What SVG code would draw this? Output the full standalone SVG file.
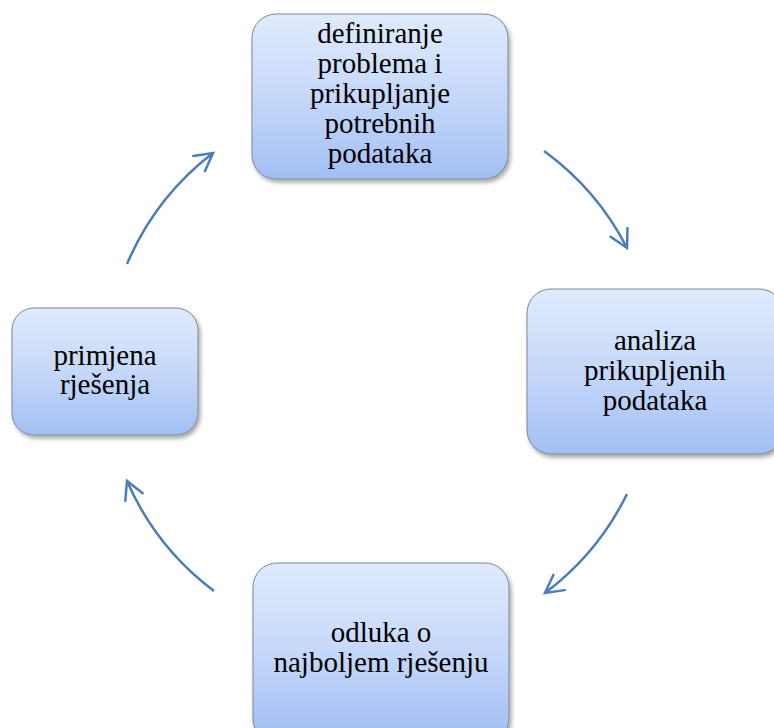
<svg xmlns="http://www.w3.org/2000/svg" width="774" height="728" viewBox="0 0 774 728">
  <defs>
    <linearGradient id="boxFill" x1="0" y1="0" x2="0" y2="1">
      <stop offset="0" stop-color="#e0eafc"/>
      <stop offset="0.5" stop-color="#c6d8f9"/>
      <stop offset="1" stop-color="#a2bff4"/>
    </linearGradient>
    <linearGradient id="boxFillTall" x1="0" y1="0" x2="0" y2="1">
      <stop offset="0" stop-color="#e0eafc"/>
      <stop offset="0.5" stop-color="#c6d8f9"/>
      <stop offset="0.94" stop-color="#a2bff4"/>
      <stop offset="1" stop-color="#a0bdf3"/>
    </linearGradient>
    <filter id="shadow" x="-10%" y="-10%" width="125%" height="130%">
      <feDropShadow dx="2" dy="3" stdDeviation="2.2" flood-color="#000" flood-opacity="0.35"/>
    </filter>
    <marker id="head" markerUnits="userSpaceOnUse" viewBox="-22 -14 26 28" markerWidth="26" markerHeight="28" refX="0" refY="0" orient="auto" overflow="visible">
      <path d="M -17.5 -9.5 L 0 0 L -17.5 9.5" fill="none" stroke="#4a7ebb" stroke-width="2.5" stroke-linecap="round" stroke-linejoin="miter"/>
    </marker>
    <style>
      .box { fill: url(#boxFill); stroke: #7d8796; stroke-width: 1; filter: url(#shadow); }
      .lbl { font-family: "Liberation Serif", "Times New Roman", serif; font-size: 29px; fill: #000; text-anchor: middle; }
      .conn { fill: none; stroke: #4a7ebb; stroke-width: 2.5; marker-end: url(#head); }
    </style>
  </defs>

  <g id="connectors">
    <path class="conn" d="M 544 151 A 274 274 0 0 1 627 248"/>
    <path class="conn" d="M 627 494 A 274 274 0 0 1 545 593"/>
    <path class="conn" d="M 214 591 A 275 275 0 0 1 127 481"/>
    <path class="conn" d="M 127 264 A 275 275 0 0 1 213 153"/>
  </g>

  <g id="node-definiranje">
    <rect class="box" x="252" y="14" width="256" height="165" rx="24" ry="24"/>
    <text class="lbl" x="380" y="43">definiranje</text>
    <text class="lbl" x="380" y="73">problema i</text>
    <text class="lbl" x="380" y="103">prikupljanje</text>
    <text class="lbl" x="380" y="133">potrebnih</text>
    <text class="lbl" x="380" y="163">podataka</text>
  </g>

  <g id="node-analiza">
    <rect class="box" x="527" y="289" width="256" height="165" rx="24" ry="24"/>
    <text class="lbl" x="655" y="350">analiza</text>
    <text class="lbl" x="655" y="380">prikupljenih</text>
    <text class="lbl" x="655" y="410">podataka</text>
  </g>

  <g id="node-odluka">
    <rect class="box" x="253" y="563" width="256" height="180" rx="24" ry="24" style="fill:url(#boxFillTall)"/>
    <text class="lbl" x="381" y="642">odluka o</text>
    <text class="lbl" x="381" y="672">najboljem rješenju</text>
  </g>

  <g id="node-primjena">
    <rect class="box" x="12" y="308" width="186" height="127" rx="22" ry="22"/>
    <text class="lbl" x="105" y="365">primjena</text>
    <text class="lbl" x="105" y="394">rješenja</text>
  </g>
</svg>
